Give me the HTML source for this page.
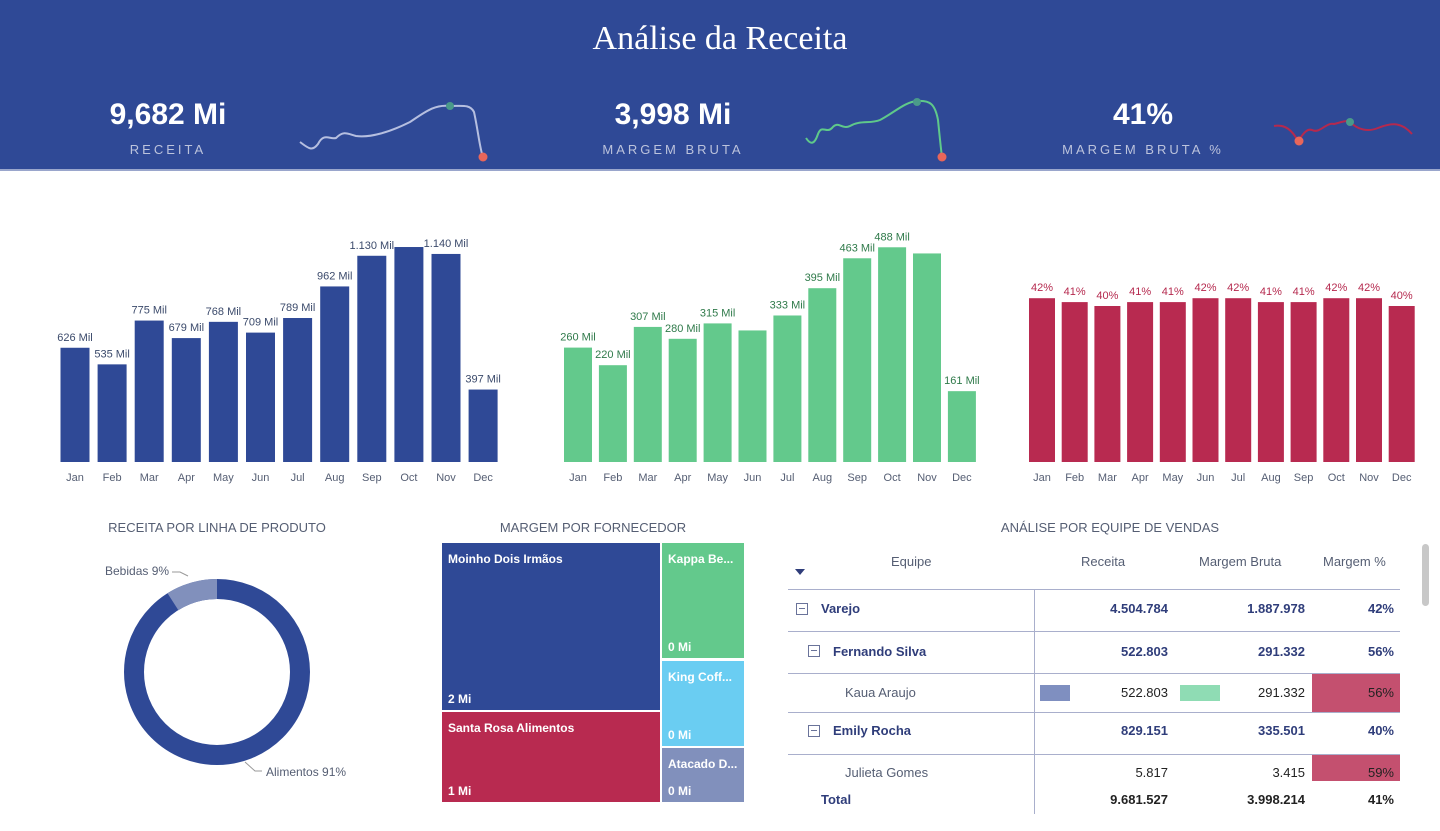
<!DOCTYPE html>
<html><head><meta charset="utf-8">
<style>
body{margin:0;width:1440px;height:831px;background:#fff;font-family:"Liberation Sans",sans-serif;overflow:hidden;position:relative}
.hdr{position:absolute;left:0;top:0;width:1440px;height:169px;background:#2f4996;border-bottom:2px solid #9aa6cc}
.title{position:absolute;top:20px;width:1440px;text-align:center;color:#fff;font-family:"Liberation Serif",serif;font-size:34px}
.kv{position:absolute;color:#fff;font-weight:bold;font-size:30px;text-align:center;width:240px}
.kl{position:absolute;color:#bcc3dc;font-size:13px;letter-spacing:3px;text-align:center;width:240px}
.sec{position:absolute;color:#555e73;font-size:13px;text-align:center}
.tm{position:absolute;color:#fff;font-size:12px;font-weight:bold;box-sizing:border-box}
.tm span{position:absolute;left:6px;white-space:nowrap}
.td{position:absolute;font-size:13px;color:#2f3d7a;white-space:nowrap}
</style></head><body>
<div class="hdr">
<div class="title">Análise da Receita</div>
<div class="kv" style="left:48px;top:98px">9,682 Mi</div>
<div class="kl" style="left:48px;top:142px">RECEITA</div>
<div class="kv" style="left:553px;top:98px">3,998 Mi</div>
<div class="kl" style="left:553px;top:142px">MARGEM BRUTA</div>
<div class="kv" style="left:1023px;top:98px">41%</div>
<div class="kl" style="left:1023px;top:142px">MARGEM BRUTA %</div>
<svg width="1440" height="169" style="position:absolute;left:0;top:0">
<path d="M300,142 C308,148 312,152 318,144 C324,132 330,140 336,138 C344,130 348,134 356,136 C370,138 390,132 410,122 C425,112 435,104 450,106 C462,106 470,104 474,112 C478,130 480,150 483,157" fill="none" stroke="#b6bfe0" stroke-width="2"/>
<circle cx="450" cy="106" r="4" fill="#4a9a8a"/><circle cx="483" cy="157" r="4.5" fill="#e8665a"/>
<path d="M806,138 C810,144 814,146 818,134 C822,124 826,134 832,128 C838,120 842,130 850,126 C860,120 870,124 880,120 C895,112 905,102 917,101 C930,100 935,104 938,120 C940,140 941,150 942,157" fill="none" stroke="#5fc98a" stroke-width="2"/>
<circle cx="917" cy="102" r="4" fill="#4a9a8a"/><circle cx="942" cy="157" r="4.5" fill="#e8665a"/>
<path d="M1274,126 C1285,124 1292,130 1298,141 C1302,136 1306,128 1312,130 C1320,134 1326,122 1334,124 C1342,122 1346,120 1350,122 C1358,130 1368,132 1378,128 C1388,124 1400,120 1412,134" fill="none" stroke="#b5294e" stroke-width="2"/>
<circle cx="1350" cy="122" r="4" fill="#4a9a8a"/><circle cx="1299" cy="141" r="4.5" fill="#e8665a"/>
</svg>
</div>

<svg id="bars" width="1440" height="500" style="position:absolute;left:0;top:0"></svg>

<div class="sec" style="left:92px;top:520px;width:250px">RECEITA POR LINHA DE PRODUTO</div>
<svg width="400" height="311" style="position:absolute;left:0;top:520px">
<circle cx="217" cy="152" r="83" fill="none" stroke="#2f4996" stroke-width="20"/>
<path d="M217,59 A93,93 0 0 0 167.5,73.3 L178.4,90.2 A73,73 0 0 1 217,79 Z" fill="#8190bc"/>
<polyline points="188,56 180,52 172,52" fill="none" stroke="#999" stroke-width="1"/>
<text x="105" y="55" font-size="12" fill="#555e73">Bebidas 9%</text>
<polyline points="245,242 255,251 262,251" fill="none" stroke="#999" stroke-width="1"/>
<text x="266" y="256" font-size="12" fill="#555e73">Alimentos 91%</text>
</svg>

<div class="sec" style="left:442px;top:520px;width:302px">MARGEM POR FORNECEDOR</div>
<div class="tm" style="left:442px;top:543px;width:218px;height:167px;background:#2f4996"><span style="top:9px">Moinho Dois Irmãos</span><span style="bottom:4px">2 Mi</span></div>
<div class="tm" style="left:442px;top:712px;width:218px;height:90px;background:#b82a50"><span style="top:9px">Santa Rosa Alimentos</span><span style="bottom:4px">1 Mi</span></div>
<div class="tm" style="left:662px;top:543px;width:82px;height:115px;background:#63c98c;overflow:hidden"><span style="top:9px">Kappa Be...</span><span style="bottom:4px">0 Mi</span></div>
<div class="tm" style="left:662px;top:661px;width:82px;height:85px;background:#6acdf2;overflow:hidden"><span style="top:9px">King Coff...</span><span style="bottom:4px">0 Mi</span></div>
<div class="tm" style="left:662px;top:748px;width:82px;height:54px;background:#8190bc;overflow:hidden"><span style="top:9px">Atacado D...</span><span style="bottom:4px">0 Mi</span></div>

<div class="sec" style="left:960px;top:520px;width:300px">ANÁLISE POR EQUIPE DE VENDAS</div>
<div style="position:absolute;left:0;top:0;width:1440px;height:831px">
<div class="td" style="left:891px;top:554px;color:#555e73">Equipe</div>
<div class="td" style="left:1081px;top:554px;color:#555e73">Receita</div>
<div class="td" style="left:1199px;top:554px;color:#555e73">Margem Bruta</div>
<div class="td" style="left:1323px;top:554px;color:#555e73">Margem %</div>
<div style="position:absolute;left:795px;top:569px;border-left:5px solid transparent;border-right:5px solid transparent;border-top:6px solid #2f3d7a"></div>
<div style="position:absolute;left:788px;top:589px;width:612px;height:1px;background:#a9afcc"></div>
<div style="position:absolute;left:788px;top:631px;width:612px;height:1px;background:#a9afcc"></div>
<div style="position:absolute;left:788px;top:673px;width:612px;height:1px;background:#a9afcc"></div>
<div style="position:absolute;left:788px;top:712px;width:612px;height:1px;background:#a9afcc"></div>
<div style="position:absolute;left:788px;top:754px;width:612px;height:1px;background:#a9afcc"></div>
<div style="position:absolute;left:1034px;top:589px;width:1px;height:225px;background:#a9afcc"></div>
<div style="position:absolute;left:1312px;top:674px;width:88px;height:38px;background:#c4506f"></div>
<div style="position:absolute;left:1312px;top:755px;width:88px;height:26px;background:#c4506f"></div>
<div style="position:absolute;left:1040px;top:685px;width:30px;height:16px;background:#7f8fc0"></div>
<div style="position:absolute;left:1180px;top:685px;width:40px;height:16px;background:#8fdcb4"></div>
<div style="position:absolute;left:1422px;top:544px;width:7px;height:62px;border-radius:4px;background:#c8c8c8"></div>
<div style="position:absolute;left:796px;top:603px;width:10px;height:10px;border:1px solid #6a739a"></div><div style="position:absolute;left:799px;top:608px;width:6px;height:1px;background:#6a739a"></div>
<div style="position:absolute;left:808px;top:645px;width:10px;height:10px;border:1px solid #6a739a"></div><div style="position:absolute;left:811px;top:650px;width:6px;height:1px;background:#6a739a"></div>
<div style="position:absolute;left:808px;top:725px;width:10px;height:10px;border:1px solid #6a739a"></div><div style="position:absolute;left:811px;top:730px;width:6px;height:1px;background:#6a739a"></div>
<div class="td" style="left:821px;top:601px;font-weight:bold">Varejo</div>
<div class="td" style="left:833px;top:644px;font-weight:bold">Fernando Silva</div>
<div class="td" style="left:845px;top:685px;color:#555e73">Kaua Araujo</div>
<div class="td" style="left:833px;top:723px;font-weight:bold">Emily Rocha</div>
<div class="td" style="left:845px;top:765px;color:#555e73">Julieta Gomes</div>
<div class="td" style="left:821px;top:792px;font-weight:bold">Total</div>
<div class="td" style="right:272px;top:601px;font-weight:bold">4.504.784</div>
<div class="td" style="right:135px;top:601px;font-weight:bold">1.887.978</div>
<div class="td" style="right:46px;top:601px;font-weight:bold">42%</div>
<div class="td" style="right:272px;top:644px;font-weight:bold">522.803</div>
<div class="td" style="right:135px;top:644px;font-weight:bold">291.332</div>
<div class="td" style="right:46px;top:644px;font-weight:bold">56%</div>
<div class="td" style="right:272px;top:685px;color:#222">522.803</div>
<div class="td" style="right:135px;top:685px;color:#222">291.332</div>
<div class="td" style="right:46px;top:685px;color:#222">56%</div>
<div class="td" style="right:272px;top:723px;font-weight:bold">829.151</div>
<div class="td" style="right:135px;top:723px;font-weight:bold">335.501</div>
<div class="td" style="right:46px;top:723px;font-weight:bold">40%</div>
<div class="td" style="right:272px;top:765px;color:#222">5.817</div>
<div class="td" style="right:135px;top:765px;color:#222">3.415</div>
<div class="td" style="right:46px;top:765px;color:#222">59%</div>
<div class="td" style="right:272px;top:792px;font-weight:bold;color:#222">9.681.527</div>
<div class="td" style="right:135px;top:792px;font-weight:bold;color:#222">3.998.214</div>
<div class="td" style="right:46px;top:792px;font-weight:bold;color:#222">41%</div>
</div>

<script>
const months=["Jan","Feb","Mar","Apr","May","Jun","Jul","Aug","Sep","Oct","Nov","Dec"];
const receita=[626,535,775,679,768,709,789,962,1130,1178,1140,397];
const receitaLabels=["626 Mil","535 Mil","775 Mil","679 Mil","768 Mil","709 Mil","789 Mil","962 Mil","1.130 Mil","","1.140 Mil","397 Mil"];
const margem=[260,220,307,280,315,299,333,395,463,488,474,161];
const margemLabels=["260 Mil","220 Mil","307 Mil","280 Mil","315 Mil","","333 Mil","395 Mil","463 Mil","488 Mil","","161 Mil"];
const margemPct=[42,41,40,41,41,42,42,41,41,42,42,40];
const svg=document.getElementById('bars');
const NS='http://www.w3.org/2000/svg';
function chart(name,vals,labels,x0,step,bw,scale,color,lblColor){
  const base=462;
  vals.forEach((v,i)=>{
    const cx=x0+i*step, h=v*scale;
    const r=document.createElementNS(NS,'rect');
    r.setAttribute('x',cx-bw/2);r.setAttribute('y',base-h);r.setAttribute('width',bw);r.setAttribute('height',h);r.setAttribute('fill',color);
    
    
    svg.appendChild(r);
    if(labels[i]){
      const t=document.createElementNS(NS,'text');
      t.setAttribute('x',cx);t.setAttribute('y',base-h-7);t.setAttribute('text-anchor','middle');t.setAttribute('font-size','11');t.setAttribute('fill',lblColor);
      t.textContent=labels[i];
      
      
      svg.appendChild(t);
    }
    const m=document.createElementNS(NS,'text');
    m.setAttribute('x',cx);m.setAttribute('y',base+19);m.setAttribute('text-anchor','middle');m.setAttribute('font-size','11');m.setAttribute('fill','#555e73');
    m.textContent=months[i];
    
    
    svg.appendChild(m);
  });
}
chart('receita',receita,receitaLabels,75,37.1,29,0.1825,'#2f4996','#3b4a6b');
chart('margem',margem,margemLabels,578,34.9,28,0.44,'#63c98c','#2f7a4a');
chart('pct',margemPct,margemPct.map(v=>v+'%'),1042,32.7,26,3.9,'#b82a50','#b5294e');
</script>
</body></html>
